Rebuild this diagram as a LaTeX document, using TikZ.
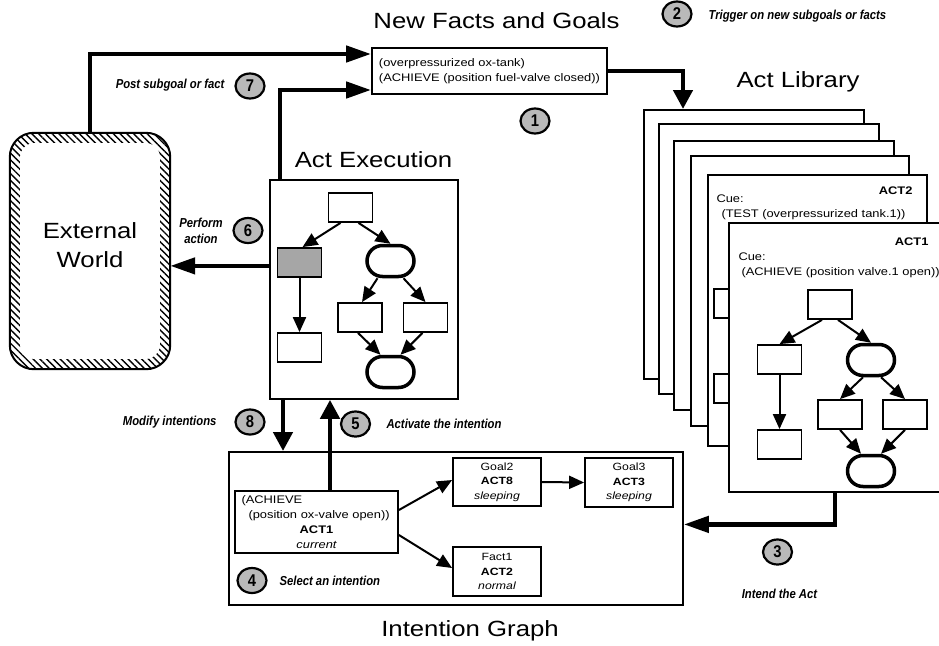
\documentclass[tikz,border=0pt]{standalone}
\usepackage{fontspec}
\setmainfont{Liberation Sans}[FakeStretch=1.17]
\newfontfamily\lblfont{Liberation Sans}[FakeStretch=0.87]
\usetikzlibrary{arrows.meta,shapes.geometric,shapes.misc,patterns.meta}

\begin{document}
\begin{tikzpicture}[x=1pt,y=-1pt,
  title/.style={font=\fontsize{22}{29}\selectfont},
  txt/.style={font=\fontsize{11}{15}\selectfont},
  small/.style={font=\fontsize{10.5}{14.5}\selectfont},
  lbl/.style={font=\lblfont\bfseries\itshape\fontsize{13}{15.5}\selectfont},
  num/.style={ellipse, draw, line width=2.2pt, fill=gray!55, minimum width=29pt,
              minimum height=25pt, inner sep=0pt, font=\lblfont\bfseries\fontsize{17}{17}\selectfont},
  box/.style={draw, line width=1.8pt, fill=white, inner sep=0pt},
  gbox/.style={draw, line width=1.8pt, fill=white, minimum width=44pt,
               minimum height=29pt, inner sep=0pt},
  goval/.style={rounded rectangle, draw, line width=3.5pt, fill=white,
                minimum width=47pt, minimum height=31pt, inner sep=0pt},
  card/.style={draw, line width=2.4pt, fill=white, anchor=north west, inner sep=0pt},
  harrow/.style={line width=4.5pt, -{Triangle[length=25pt,width=16pt]}},
  varrow/.style={line width=4.5pt, -{Triangle[length=19pt,width=19pt]}},
  garrow/.style={line width=2pt, -{Triangle[length=15pt,width=13pt]}}]

\useasboundingbox (0,0) rectangle (939,645);
\clip (0,0) rectangle (939,645);

% ---------- External World ----------
\node[minimum width=160pt, minimum height=236pt, inner sep=0pt] (ew) at (90,251) {};
\fill[pattern={Lines[angle=-45,distance=4.8pt,line width=1.4pt]}, even odd rule,
      rounded corners=24pt]
  (ew.north west) rectangle (ew.south east)
  [rounded corners=15pt]
  ([shift={(10pt,-10pt)}]ew.north west) rectangle ([shift={(-10pt,10pt)}]ew.south east);
\draw[line width=2pt, rounded corners=24pt] (ew.north west) rectangle (ew.south east);
\node[title, align=center] (ewtext) at ([yshift=6pt]ew.center) {External\\World};

% ---------- New Facts and Goals ----------
\node[title, anchor=base] (nftitle) at (496.5,28) {New Facts and Goals};
\node[box, txt, align=left, minimum width=235pt, minimum height=46pt] (nf) at (489.5,71)
  {(overpressurized ox-tank)\\(ACHIEVE (position fuel-valve closed))};

% ---------- Act Library ----------
\node[title, anchor=base] (altitle) at (798,87) {Act Library};
\node[card, minimum width=220pt, minimum height=269pt] (card1) at (643,109) {};
\node[card, minimum width=220pt, minimum height=270pt] (card2) at (658,123) {};
\node[card, minimum width=220pt, minimum height=269pt] (card3) at (673,140) {};
\node[card, minimum width=218pt, minimum height=270pt] (card4) at (690,155) {};
\node[card, minimum width=219pt, minimum height=271pt] (card5) at (707,174) {};
\node[txt, anchor=base east] (act2) at (916,194) {\bfseries ACT2};
\node[txt, anchor=base west] (cue2) at (713,202) {Cue:};
\node[txt, anchor=base west] (test2) at (718,217) {(TEST (overpressurized tank.1))};
\node[gbox, anchor=north west] (p1) at (713,288) {};
\node[gbox, anchor=north west] (p2) at (713,373) {};

\node[card, minimum width=225pt, minimum height=269pt] (card6) at (728,222) {};
\node[txt, anchor=base east] (act1) at (932,245) {\bfseries ACT1};
\node[txt, anchor=base west] (cue1) at (735,260) {Cue:};
\node[txt, anchor=base west] (ach1) at (738,275) {(ACHIEVE (position valve.1 open))};

% plan graph of ACT1
\node[gbox] (lt)  at (830,304.5) {};
\node[gbox] (ll)  at (779.5,359.5) {};
\node[goval] (lo) at (871,360) {};
\node[gbox] (lbl) at (779.5,444.5) {};
\node[gbox] (lml) at (840,414.5) {};
\node[gbox] (lmr) at (905,414.5) {};
\node[goval] (lbo) at (871,471) {};
\draw[garrow] ([xshift=-8pt]lt.south) -- (ll.north);
\draw[garrow] ([xshift=8pt]lt.south) -- (lo.north);
\draw[garrow] (ll.south) -- (lbl.north);
\draw[garrow] ([xshift=-8pt]lo.south) -- (lml.north);
\draw[garrow] ([xshift=10pt]lo.south) -- (lmr.north);
\draw[garrow] (lml.south) -- ([xshift=-10pt]lbo.north);
\draw[garrow] (lmr.south) -- ([xshift=10pt]lbo.north);

% ---------- Act Execution ----------
\node[title, anchor=base] (aetitle) at (373.5,167) {Act Execution};
\node[box, minimum width=188pt, minimum height=219pt, anchor=north west] (ae) at (269,179) {};
\node[gbox] (et)  at (350.5,207.5) {};
\node[gbox, fill=gray!70] (ed) at (299.5,262.5) {};
\node[goval] (eo) at (390.5,261) {};
\node[gbox] (ebl) at (299.5,347.5) {};
\node[gbox] (eml) at (360,317.5) {};
\node[gbox] (emr) at (425.5,317.5) {};
\node[goval] (ebo) at (390.5,372) {};
\draw[garrow] ([xshift=-10pt]et.south) -- ([xshift=3pt]ed.north);
\draw[garrow] ([xshift=8pt]et.south) -- (eo.north);
\draw[garrow] (ed.south) -- (ebl.north);
\draw[garrow] ([xshift=-13pt]eo.south) -- ([xshift=2pt]eml.north);
\draw[garrow] ([xshift=13pt]eo.south) -- (emr.north);
\draw[garrow] ([xshift=-2pt]eml.south) -- ([xshift=-10pt]ebo.north);
\draw[garrow] ([xshift=-3pt]emr.south) -- ([xshift=10pt]ebo.north);

% ---------- Intention Graph ----------
\node[box, minimum width=454pt, minimum height=153pt, anchor=north west] (ig) at (228,451) {};
\node[title, anchor=base] (igtitle) at (470,636) {Intention Graph};
\node[box, txt, minimum width=163pt, minimum height=62pt, text width=150pt] (ach) at (316.5,522)
  {(ACHIEVE\par\hspace*{7pt}(position ox-valve open))\par
   {\centering\bfseries ACT1\par}{\centering\itshape current\par}};
\node[box, small, align=center, minimum width=88pt, minimum height=48pt] (g2) at (497,482)
  {Goal2\\{\bfseries ACT8}\\{\itshape sleeping}};
\node[box, small, align=center, minimum width=88pt, minimum height=49pt] (f1) at (497,571.5)
  {Fact1\\{\bfseries ACT2}\\{\itshape normal}};
\node[box, small, align=center, minimum width=88pt, minimum height=49pt] (g3) at (629,482.5)
  {Goal3\\{\bfseries ACT3}\\{\itshape sleeping}};
\draw[garrow] ([yshift=12pt]ach.east) -- ([yshift=2pt]g2.west);
\draw[garrow] ([yshift=-13pt]ach.east) -- ([yshift=3.5pt]f1.west);
\draw[garrow] (g2.east) -- (g3.west);

% ---------- main flow ----------
\coordinate (a7) at ([xshift=11pt]ae.north west);
\coordinate (a6) at ([yshift=23.5pt]ae.west);
\coordinate (a8) at ([xshift=14pt]ae.south west);
\coordinate (a5) at ([xshift=13.5pt]ach.north);
\coordinate (a3) at ([xshift=107pt]card6.south west);
\draw[harrow] (ew.north) |- ([yshift=17pt]nf.west);
\draw[harrow] (a7) |- ([yshift=-19pt]nf.west);
\draw[varrow] (nf.east) -| ([xshift=40pt]card1.north west);
\draw[harrow] (a6) -- (a6 -| ew.east);
\draw[varrow] (a8) -- (a8 |- ig.north);
\draw[varrow] (a5) -- (a5 |- ae.south);
\draw[harrow] (a3) |- ([yshift=4pt]ig.east);

% ---------- numbered steps ----------
\node[num] (n1) at (535,121) {1};
\node[num] (n2) at (677,14) {2};
\node[num] (n3) at (777.5,552) {3};
\node[num] (n4) at (252,580.5) {4};
\node[num] (n5) at (355.5,424) {5};
\node[num] (n6) at (248,230.5) {6};
\node[num] (n7) at (250,86) {7};
\node[num] (n8) at (250,422) {8};

\node[lbl, anchor=base east] (l7) at (228,88) {Post subgoal or fact};
\node[lbl, anchor=base west] (l2) at (705,19) {Trigger on new subgoals or facts};
\node[lbl, align=center] (l6) at (201,231) {Perform\\action};
\node[lbl, anchor=base east] (l8) at (220,425) {Modify intentions};
\node[lbl, anchor=base west] (l5) at (383,428) {Activate the intention};
\node[lbl, anchor=base west] (l4) at (276,585) {Select an intention};
\node[lbl, anchor=base] (l3) at (779.5,598) {Intend the Act};
\end{tikzpicture}
\end{document}
